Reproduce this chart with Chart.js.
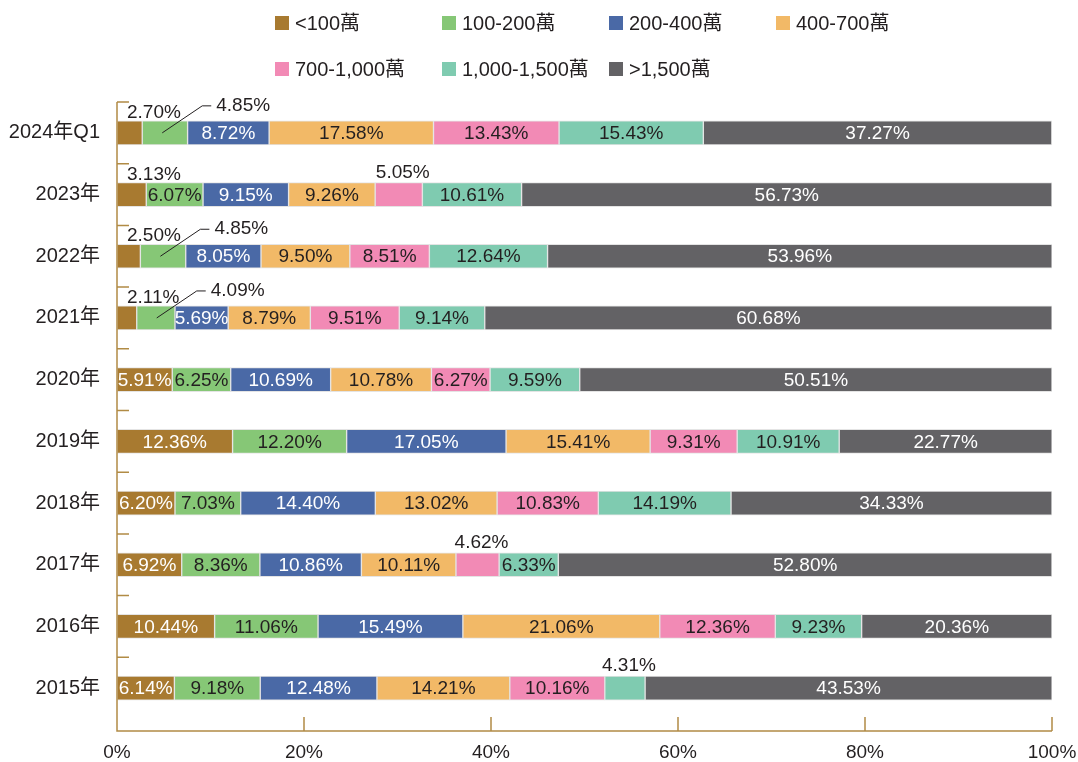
<!DOCTYPE html>
<html>
<head>
<meta charset="utf-8">
<script src="https://cdn.jsdelivr.net/npm/chart.js@4.4.1/dist/chart.umd.min.js"></script>
<style>
  body { margin: 0; background: #fff; }
</style>
</head>
<body>
<canvas id="myChart" width="1078" height="762"></canvas>
<script>
// categorie (dall'alto in basso) e serie in percentuale
const years = ['2024年Q1', '2023年', '2022年', '2021年', '2020年', '2019年', '2018年', '2017年', '2016年', '2015年'];
const seriesNames = ['<100萬', '100-200萬', '200-400萬', '400-700萬', '700-1,000萬', '1,000-1,500萬', '>1,500萬'];

const under100 = [2.70, 3.13, 2.50, 2.11, 5.91, 12.36, 6.20, 6.92, 10.44, 6.14];
const from100to200 = [4.85, 6.07, 4.85, 4.09, 6.25, 12.20, 7.03, 8.36, 11.06, 9.18];
const from200to400 = [8.72, 9.15, 8.05, 5.69, 10.69, 17.05, 14.40, 10.86, 15.49, 12.48];
const from400to700 = [17.58, 9.26, 9.50, 8.79, 10.78, 15.41, 13.02, 10.11, 21.06, 14.21];
const from700to1000 = [13.43, 5.05, 8.51, 9.51, 6.27, 9.31, 10.83, 4.62, 12.36, 10.16];
const from1000to1500 = [15.43, 10.61, 12.64, 9.14, 9.59, 10.91, 14.19, 6.33, 9.23, 4.31];
const over1500 = [37.27, 56.73, 53.96, 60.68, 50.51, 22.77, 34.33, 52.80, 20.36, 43.53];

const xTicks = [0, 20, 40, 60, 80, 100];

const colors = ['#a87a30', '#86c776', '#4a69a6', '#f2b967', '#f28ab5', '#7fcbb0', '#636265'];
const textColors = ['#ffffff', '#231f20', '#ffffff', '#231f20', '#231f20', '#231f20', '#ffffff'];

// etichette piccole messe fuori dalla barra
const outsideLabels = [
  { ds: 0, row: 0, mode: 'above' }, { ds: 1, row: 0, mode: 'leader' },
  { ds: 0, row: 1, mode: 'above' }, { ds: 4, row: 1, mode: 'top' },
  { ds: 0, row: 2, mode: 'above' }, { ds: 1, row: 2, mode: 'leader' },
  { ds: 0, row: 3, mode: 'above' }, { ds: 1, row: 3, mode: 'leader' },
  { ds: 4, row: 7, mode: 'top' }, { ds: 5, row: 9, mode: 'top' }
];

const FONT = '"Liberation Sans", Arial, "Noto Sans CJK TC", sans-serif';
const AXIS = '#b18b45';
const INK = '#231f20';

const allSeries = [under100, from100to200, from200to400, from400to700, from700to1000, from1000to1500, over1500];

// assi disegnati a mano (tacche verso l'interno)
const axisPlugin = {
  id: 'axisLines',
  afterDatasetsDraw(chart) {
    const ctx = chart.ctx;
    const area = chart.chartArea;
    const xs = chart.scales.x, ys = chart.scales.y;
    const axisY = area.bottom + 12;
    ctx.save();
    ctx.strokeStyle = AXIS;
    ctx.lineWidth = 1.5;
    ctx.beginPath();
    ctx.moveTo(area.left, area.top);
    ctx.lineTo(area.left, axisY);
    ctx.lineTo(xs.getPixelForValue(100), axisY);
    const half = (ys.getPixelForValue(1) - ys.getPixelForValue(0)) / 2;
    years.forEach((y, k) => {
      const py = ys.getPixelForValue(k) - half;
      ctx.moveTo(area.left, py);
      ctx.lineTo(area.left + 12, py);
    });
    xTicks.slice(1).forEach(v => {
      const px = xs.getPixelForValue(v);
      ctx.moveTo(px, axisY);
      ctx.lineTo(px, axisY - 14);
    });
    ctx.stroke();
    ctx.restore();
  }
};

// percentuali sulle barre
const labelPlugin = {
  id: 'barLabels',
  afterDatasetsDraw(chart) {
    const ctx = chart.ctx;
    ctx.save();
    ctx.font = '19px ' + FONT;
    ctx.textBaseline = 'middle';
    chart.data.datasets.forEach((ds, i) => {
      chart.getDatasetMeta(i).data.forEach((bar, j) => {
        const text = ds.data[j].toFixed(2) + '%';
        const left = Math.min(bar.base, bar.x);
        const right = Math.max(bar.base, bar.x);
        const spot = outsideLabels.find(o => o.ds === i && o.row === j);
        if (!spot) {
          ctx.fillStyle = textColors[i];
          ctx.textAlign = 'center';
          ctx.fillText(text, (left + right) / 2, bar.y + 1);
        } else if (spot.mode === 'above') {
          ctx.fillStyle = INK;
          ctx.textAlign = 'left';
          ctx.fillText(text, left + 10, bar.y - 20);
        } else if (spot.mode === 'top') {
          ctx.fillStyle = INK;
          ctx.textAlign = 'center';
          ctx.fillText(text, (left + right) / 2 + 4, bar.y - 22);
        } else {
          const lx = left + 74, ly = bar.y - 27;
          ctx.strokeStyle = INK;
          ctx.lineWidth = 1;
          ctx.beginPath();
          ctx.moveTo(left + 20, bar.y);
          ctx.lineTo(lx - 14, ly);
          ctx.lineTo(lx - 5, ly);
          ctx.stroke();
          ctx.fillStyle = INK;
          ctx.textAlign = 'left';
          ctx.fillText(text, lx, ly);
        }
      });
    });
    ctx.restore();
  }
};

// legenda a griglia, 4 colonne
const legendPlugin = {
  id: 'gridLegend',
  afterDraw(chart) {
    const ctx = chart.ctx;
    ctx.save();
    ctx.font = '20px ' + FONT;
    ctx.textAlign = 'left';
    ctx.textBaseline = 'middle';
    chart.data.datasets.forEach((ds, i) => {
      const x = 275 + (i % 4) * 167;
      const y = 23 + Math.floor(i / 4) * 46;
      ctx.fillStyle = ds.backgroundColor;
      ctx.fillRect(x, y - 7, 14, 14);
      ctx.fillStyle = INK;
      ctx.fillText(ds.label, x + 20, y + 1);
    });
    ctx.restore();
  }
};

window.onload = function () {
  const chartData = {
    labels: years,
    datasets: allSeries.map((values, i) => ({
      label: seriesNames[i],
      data: values,
      backgroundColor: colors[i],
      borderColor: '#e4e4e4',
      borderWidth: 1,
      borderSkipped: false,
      barThickness: 24
    }))
  };

  new Chart(document.getElementById('myChart'), {
    type: 'bar',
    data: chartData,
    options: {
      indexAxis: 'y',
      responsive: false,
      animation: false,
      layout: { padding: { top: 102, right: 26, left: 0, bottom: 0 } },
      scales: {
        x: {
          stacked: true,
          min: 0,
          max: 100,
          afterFit(scale) {
            scale.height = 43;
            scale.paddingLeft = 0;
            scale.paddingRight = 0;
          },
          afterBuildTicks(scale) { scale.ticks = xTicks.map(v => ({ value: v })); },
          grid: { display: false },
          border: { display: false },
          ticks: {
            padding: 14,
            color: INK,
            font: { size: 19, family: FONT },
            callback: v => v + '%'
          }
        },
        y: {
          stacked: true,
          afterFit(scale) { scale.width = 117; },
          grid: { display: false },
          border: { display: false },
          ticks: {
            padding: 9,
            color: INK,
            font: { size: 20, family: FONT }
          }
        }
      },
      plugins: {
        legend: { display: false },
        tooltip: { enabled: false }
      }
    },
    plugins: [axisPlugin, labelPlugin, legendPlugin]
  });
};
</script>
</body>
</html>
